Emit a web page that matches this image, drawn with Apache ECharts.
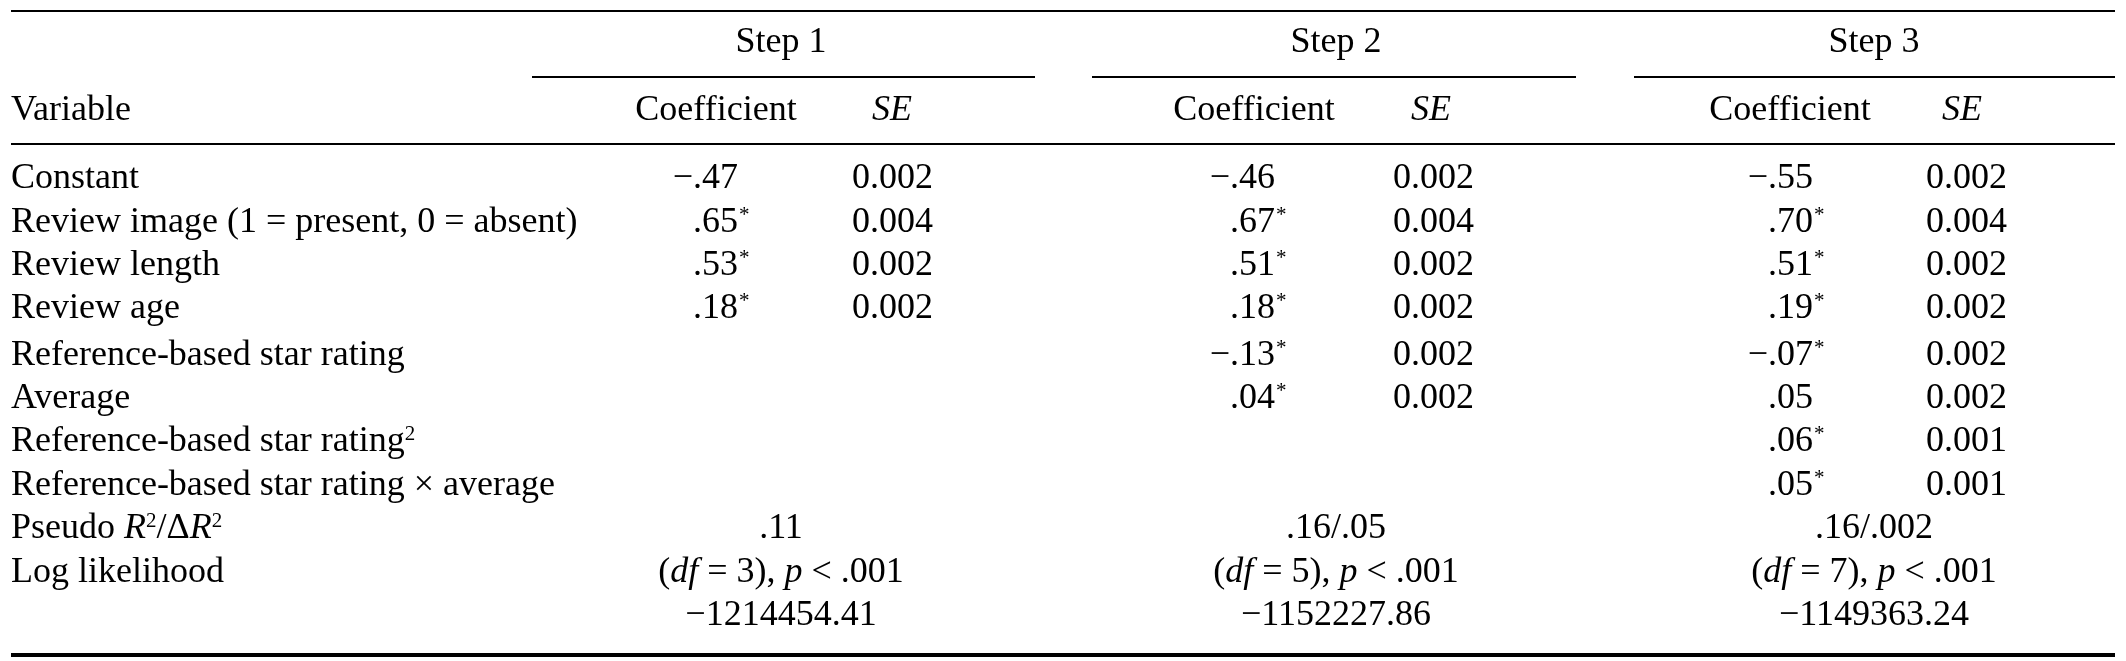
<!DOCTYPE html><html><head><meta charset="utf-8"><script src="https://cdn.jsdelivr.net/npm/echarts@6/dist/echarts.min.js"></script>
<style>html,body{margin:0;background:#fff}#c{width:2126px;height:661px}</style></head><body><div id="c"></div><script>
var steps=['Step 1','Step 2','Step 3'];
var variables=['Constant','Review image (1 = present, 0 = absent)','Review length','Review age','Reference-based star rating','Average','Reference-based star rating{sup|2}','Reference-based star rating × average','Pseudo {i|R}{sup|2}/Δ{i|R}{sup|2}','Log likelihood',''];
var coef1=['−.47','.65*','.53*','.18*','','','',''];
var se1=['0.002','0.004','0.002','0.002','','','',''];
var coef2=['−.46','.67*','.51*','.18*','−.13*','.04*','',''];
var se2=['0.002','0.004','0.002','0.002','0.002','0.002','',''];
var coef3=['−.55','.70*','.51*','.19*','−.07*','.05','.06*','.05*'];
var se3=['0.002','0.004','0.002','0.002','0.002','0.002','0.001','0.001'];
var r2=['.11','.16/.05','.16/.002'];
var dfs=['3','5','7'];
var ll=['−1214454.41','−1152227.86','−1149363.24'];

var F='"Liberation Serif","DejaVu Serif",serif',FS=36;
var rich={i:{fontStyle:'italic',fontFamily:F,fontSize:FS,fill:'#000'},sup:{fontSize:21,fontFamily:F,padding:[0,0,15,0],fill:'#000'}};
function T(x,y,t,al){return {type:'text',x:x,y:y,style:{text:t,font:FS+'px '+F,fill:'#000',align:al||'left',verticalAlign:'middle',rich:rich}};}
function L(x1,y,x2,w){return {type:'line',shape:{x1:x1,y1:y,x2:x2,y2:y},style:{stroke:'#000',lineWidth:w}};}
var rowsY=[179,223,266,309,356,399,442,486,529,573,616];
var g=[L(11,11,2115,2),L(11,144,2115,2),L(11,655,2115,4)];
var spans=[[532,1035],[1092,1576],[1634,2115]];
var centers=[781,1336,1874];
var cr=[738,1275,1813],sl=[852,1393,1926],ch=[716,1254,1790],sh=[892,1431,1962];
var C=[coef1,coef2,coef3],S=[se1,se2,se3];
g.push(T(11,111,'Variable'));
variables.forEach(function(v,i){if(v)g.push(T(11,rowsY[i],v));});
for(var k=0;k<3;k++){
 g.push(L(spans[k][0],77,spans[k][1],2));
 g.push(T(centers[k],43,steps[k],'center'));
 g.push(T(ch[k],111,'Coefficient','center'));
 g.push(T(sh[k],111,'{i|SE}','center'));
 for(var r=0;r<8;r++){
  var c=C[k][r];
  if(c){var star=c.indexOf('*')>=0;g.push(T(cr[k],rowsY[r],c.replace('*',''),'right'));if(star)g.push(T(cr[k]+1,rowsY[r],'{sup|*}'));}
  if(S[k][r])g.push(T(sl[k],rowsY[r],S[k][r]));
 }
 g.push(T(centers[k],rowsY[8],r2[k],'center'));
 g.push(T(centers[k],rowsY[9],'({i|df} = '+dfs[k]+'), {i|p} < .001','center'));
 g.push(T(centers[k],rowsY[10],ll[k],'center'));
}
var ch1=echarts.init(document.getElementById('c'));
ch1.setOption({animation:false,graphic:{elements:g}});
</script></body></html>
